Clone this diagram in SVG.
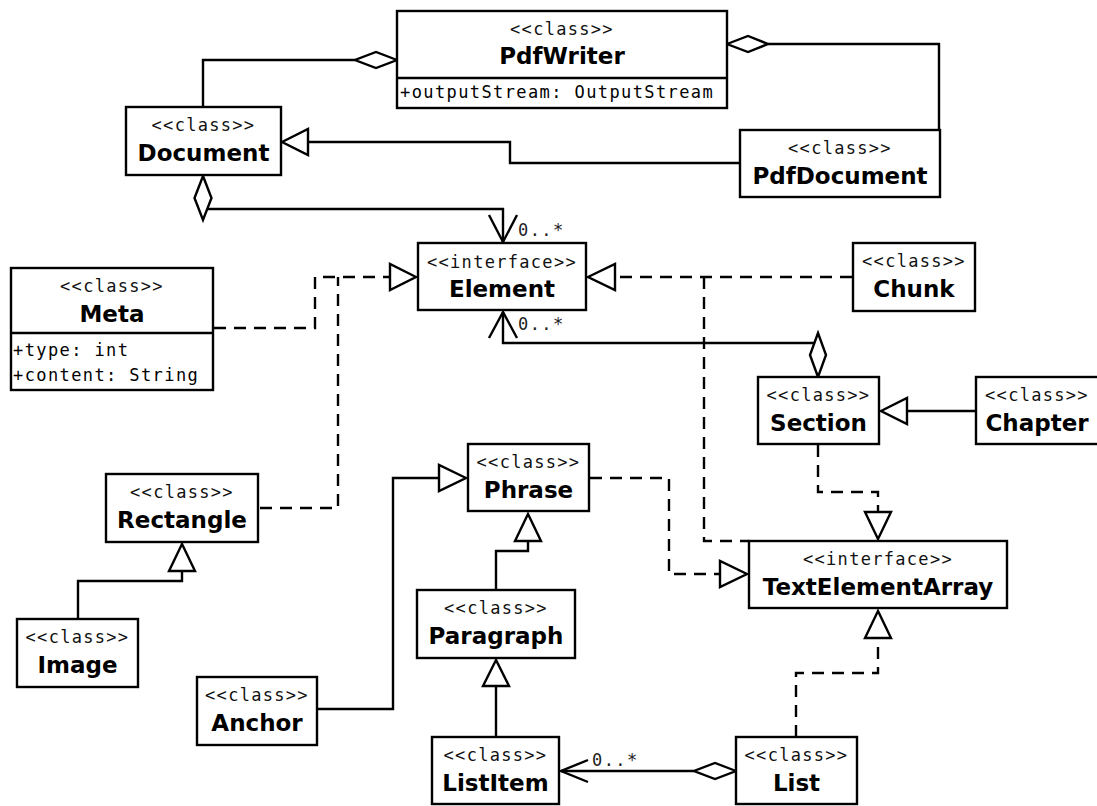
<svg xmlns="http://www.w3.org/2000/svg" width="1097" height="806" viewBox="0 0 1097 806">
<style>
.box{fill:#fff;stroke:#000;stroke-width:2.4}
.st{font-family:"DejaVu Sans Mono","Liberation Mono",monospace;font-size:17px;letter-spacing:1.3px;text-anchor:middle;fill:#111}
.nm{font-family:"DejaVu Sans","Liberation Sans",sans-serif;font-weight:bold;font-size:23px;text-anchor:middle;fill:#000}
.at{font-family:"DejaVu Sans Mono","Liberation Mono",monospace;font-size:17px;letter-spacing:1.4px;fill:#000}
.ln{fill:none;stroke:#000;stroke-width:2.4}
.dl{fill:none;stroke:#000;stroke-width:2.4;stroke-dasharray:12 8}
.tri{fill:#fff;stroke:#000;stroke-width:2.4}
.dia{fill:#fff;stroke:#000;stroke-width:2.4}
.ml{font-family:"DejaVu Sans Mono","Liberation Mono",monospace;font-size:17px;letter-spacing:1.4px;fill:#222}
</style>
<rect width="1097" height="806" fill="#fff"/>
<g id="connectors">
  <!-- Document - PdfWriter aggregation -->
  <path class="ln" d="M203,107 V60 H355"/>
  <polygon class="dia" points="397,60 376,52 355,60 376,68"/>
  <!-- PdfDocument - PdfWriter aggregation -->
  <path class="ln" d="M768,44 H939 V130"/>
  <polygon class="dia" points="727,44 748,36 768,44 748,52"/>
  <!-- PdfDocument -> Document -->
  <path class="ln" d="M740,163 H510 V142 H308"/>
  <polygon class="tri" points="282,142 308,129 308,155"/>
  <!-- Document -> Element aggregation -->
  <path class="ln" d="M203,209 H503 V242"/>
  <polyline class="ln" points="489,215 503,242 517,215"/>
  <polygon class="dia" points="203,176 211.5,198 203,220 194.5,198"/>
  <text class="ml" x="518" y="236">0..*</text>
  <!-- Section -> Element aggregation -->
  <path class="ln" d="M818,343 H503 V312"/>
  <polyline class="ln" points="489,338 503,312 517,338"/>
  <polygon class="dia" points="818,333 826,355 818,377 810,355"/>
  <text class="ml" x="518" y="330">0..*</text>
  <!-- Meta -> Element -->
  <path class="dl" d="M214,328 H315 V277 H390"/>
  <!-- Rectangle -> Element -->
  <path class="dl" d="M260,508 H338 V277"/>
  <polygon class="tri" points="416,277 390,264 390,290"/>
  <!-- Chunk -> Element -->
  <path class="dl" d="M852,277 H615"/>
  <polygon class="tri" points="588,277 615,264 615,290"/>
  <!-- Chunk -> TextElementArray -->
  <path class="dl" d="M704,277 V541 H749"/>
  <!-- Section -> TextElementArray -->
  <path class="dl" d="M818,445 V492 H878 V512"/>
  <polygon class="tri" points="878,539 865,512 891,512"/>
  <!-- Chapter -> Section -->
  <path class="ln" d="M976,411 H907"/>
  <polygon class="tri" points="881,411 907,398 907,424"/>
  <!-- Image -> Rectangle -->
  <path class="ln" d="M78,619 V581 H182 V571"/>
  <polygon class="tri" points="182,544 169,571 195,571"/>
  <!-- Anchor -> Phrase -->
  <path class="ln" d="M317,709 H393 V478 H439"/>
  <polygon class="tri" points="466,478 439,465 439,491"/>
  <!-- Phrase -> TextElementArray -->
  <path class="dl" d="M590,478 H669 V574 H720"/>
  <polygon class="tri" points="747,574 720,561 720,587"/>
  <!-- Paragraph -> Phrase -->
  <path class="ln" d="M496,590 V551 H528 V541"/>
  <polygon class="tri" points="528,514 515,541 541,541"/>
  <!-- ListItem -> Paragraph -->
  <path class="ln" d="M496,737 V686"/>
  <polygon class="tri" points="496,660 483,686 509,686"/>
  <!-- List -> ListItem aggregation -->
  <path class="ln" d="M694,771 H561"/>
  <polyline class="ln" points="588,760 561,771 588,782"/>
  <polygon class="dia" points="736,771 715,763 694,771 715,779"/>
  <text class="ml" x="592" y="766">0..*</text>
  <!-- List -> TextElementArray -->
  <path class="dl" d="M796,737 V673 H878 V638"/>
  <polygon class="tri" points="878,611 865,638 891,638"/>
</g>
<g id="PdfWriter">
  <rect class="box" x="397" y="11" width="330" height="97"/>
  <line class="ln" x1="397" y1="78" x2="727" y2="78"/>
  <text class="st" x="562" y="35">&lt;&lt;class&gt;&gt;</text>
  <text class="nm" x="562" y="64">PdfWriter</text>
  <text class="at" x="400" y="98">+outputStream: OutputStream</text>
</g>
<g id="Document">
  <rect class="box" x="126" y="107" width="155" height="68"/>
  <text class="st" x="203.5" y="131">&lt;&lt;class&gt;&gt;</text>
  <text class="nm" x="203.5" y="161">Document</text>
</g>
<g id="PdfDocument">
  <rect class="box" x="740" y="130" width="200" height="67"/>
  <text class="st" x="840" y="154">&lt;&lt;class&gt;&gt;</text>
  <text class="nm" x="840" y="184">PdfDocument</text>
</g>
<g id="Element">
  <rect class="box" x="418" y="243" width="168" height="67"/>
  <text class="st" x="502" y="268">&lt;&lt;interface&gt;&gt;</text>
  <text class="nm" x="502" y="297">Element</text>
</g>
<g id="Meta">
  <rect class="box" x="11" y="268" width="202" height="122"/>
  <line class="ln" x1="11" y1="333" x2="213" y2="333"/>
  <text class="st" x="112" y="292">&lt;&lt;class&gt;&gt;</text>
  <text class="nm" x="112" y="322">Meta</text>
  <text class="at" x="13" y="356">+type: int</text>
  <text class="at" x="13" y="381">+content: String</text>
</g>
<g id="Chunk">
  <rect class="box" x="853" y="243" width="122" height="68"/>
  <text class="st" x="914" y="267">&lt;&lt;class&gt;&gt;</text>
  <text class="nm" x="914" y="297">Chunk</text>
</g>
<g id="Section">
  <rect class="box" x="758" y="377" width="121" height="67"/>
  <text class="st" x="818.5" y="401">&lt;&lt;class&gt;&gt;</text>
  <text class="nm" x="818.5" y="431">Section</text>
</g>
<g id="Chapter">
  <rect class="box" x="976" y="377" width="123" height="67"/>
  <text class="st" x="1037" y="401">&lt;&lt;class&gt;&gt;</text>
  <text class="nm" x="1037" y="431">Chapter</text>
</g>
<g id="Rectangle">
  <rect class="box" x="106" y="474" width="152" height="68"/>
  <text class="st" x="182" y="498">&lt;&lt;class&gt;&gt;</text>
  <text class="nm" x="182" y="528">Rectangle</text>
</g>
<g id="Phrase">
  <rect class="box" x="468" y="444" width="121" height="67"/>
  <text class="st" x="528.5" y="468">&lt;&lt;class&gt;&gt;</text>
  <text class="nm" x="528.5" y="498">Phrase</text>
</g>
<g id="TextElementArray">
  <rect class="box" x="749" y="541" width="258" height="67"/>
  <text class="st" x="878" y="565">&lt;&lt;interface&gt;&gt;</text>
  <text class="nm" x="878" y="595">TextElementArray</text>
</g>
<g id="Image">
  <rect class="box" x="17" y="619" width="121" height="68"/>
  <text class="st" x="77.5" y="643">&lt;&lt;class&gt;&gt;</text>
  <text class="nm" x="77.5" y="673">Image</text>
</g>
<g id="Paragraph">
  <rect class="box" x="417" y="590" width="158" height="68"/>
  <text class="st" x="496" y="614">&lt;&lt;class&gt;&gt;</text>
  <text class="nm" x="496" y="644">Paragraph</text>
</g>
<g id="Anchor">
  <rect class="box" x="197" y="677" width="120" height="68"/>
  <text class="st" x="257" y="701">&lt;&lt;class&gt;&gt;</text>
  <text class="nm" x="257" y="731">Anchor</text>
</g>
<g id="ListItem">
  <rect class="box" x="432" y="737" width="127" height="67"/>
  <text class="st" x="495.5" y="761">&lt;&lt;class&gt;&gt;</text>
  <text class="nm" x="495.5" y="791">ListItem</text>
</g>
<g id="List">
  <rect class="box" x="736" y="737" width="121" height="67"/>
  <text class="st" x="796.5" y="761">&lt;&lt;class&gt;&gt;</text>
  <text class="nm" x="796.5" y="791">List</text>
</g>
</svg>
